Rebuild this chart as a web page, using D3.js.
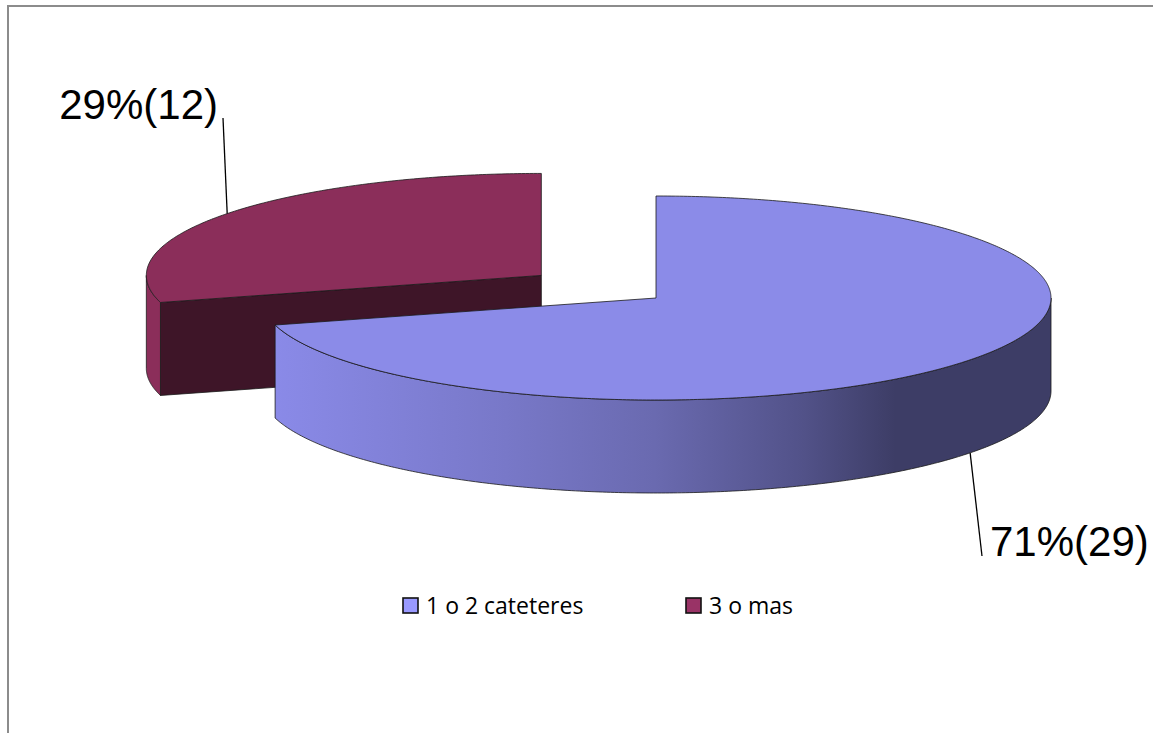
<!DOCTYPE html>
<html><head><meta charset="utf-8">
<script src="https://cdn.jsdelivr.net/npm/d3@7"></script>
<style>body{margin:0;background:#fff}svg{display:block}</style>
</head><body><svg id="c" width="1153" height="733"></svg>
<script>
// ---- data ----
const categories = ["1 o 2 cateteres", "3 o mas"];
const counts = [29, 12];
const percentLabels = ["71%(29)", "29%(12)"];
const explodeFraction = [0, 0.365];

// ---- layout / style ----
const svg = d3.select("#c");
const cx = 656, cy = 298, rx = 395, ry = 102, depth = 93;
const topColors = ["#8b8be8", "#8b2e5a"];
const sideColors = ["url(#blueSide)", "#8b2e5a"];
const radialColors = ["#3d3d66", "#3e1528"];
const legendColors = ["#9999ff", "#993366"];
const labelAnchors = [{x: 982, y: 556, tx: 990, ty: 556, anchor: "start"},
                      {x: 223, y: 118, tx: 218, ty: 119, anchor: "end"}];

// border
svg.append("rect").attr("x", 8).attr("y", 6).attr("width", 1200).attr("height", 800)
  .attr("fill", "none").attr("stroke", "#8c8c8c").attr("stroke-width", 2);

const defs = svg.append("defs");
const g = defs.append("linearGradient").attr("id", "blueSide")
  .attr("gradientUnits", "userSpaceOnUse").attr("x1", 273).attr("x2", 1051).attr("y1", 0).attr("y2", 0);
[[0, "#8a8ae8"], [0.3, "#7878c8"], [0.49, "#6a6ab0"], [0.68, "#525289"], [0.8, "#3d3d66"], [1, "#3d3d66"]]
  .forEach(([o, c]) => g.append("stop").attr("offset", o).attr("stop-color", c));

const pie = d3.pie().sort(null).startAngle(0).endAngle(2 * Math.PI);
const arcs = pie(counts);

const pt = (o, a, dy = 0) => [o[0] + rx * Math.sin(a), o[1] - ry * Math.cos(a) + dy];
function arcPts(o, a0, a1, dy) {
  const n = Math.max(2, Math.ceil(Math.abs(a1 - a0) / 0.01));
  return d3.range(n + 1).map(i => pt(o, a0 + (a1 - a0) * i / n, dy));
}
const line = d3.line();

const slices = arcs.map((d, i) => {
  const mid = (d.startAngle + d.endAngle) / 2;
  const e = explodeFraction[i];
  const o = [cx + e * rx * Math.sin(mid), cy - e * ry * Math.cos(mid)];
  return {d, i, mid, o};
}).sort((a, b) => a.o[1] - b.o[1]);

const stroke = "#1a1a1a", sw = 0.8;
slices.forEach(({d, i, o}) => {
  const grp = svg.append("g");
  // radial faces
  [[d.startAngle, d.startAngle - Math.PI / 2], [d.endAngle, d.endAngle + Math.PI / 2]].forEach(([a, n]) => {
    if (-Math.cos(n) > 0.01) {
      const p = [[o[0], o[1]], pt(o, a), pt(o, a, depth), [o[0], o[1] + depth]];
      grp.append("path").attr("d", line(p) + "Z").attr("fill", radialColors[i])
        .attr("stroke", stroke).attr("stroke-width", sw).attr("stroke-linejoin", "round");
    }
  });
  // outer side (front half only)
  const s0 = Math.max(d.startAngle, Math.PI / 2), s1 = Math.min(d.endAngle, 3 * Math.PI / 2);
  if (s1 > s0) {
    const p = arcPts(o, s0, s1, 0).concat(arcPts(o, s1, s0, depth));
    grp.append("path").attr("d", line(p) + "Z").attr("fill", sideColors[i])
      .attr("stroke", stroke).attr("stroke-width", sw).attr("stroke-linejoin", "round");
  }
  // top
  const tp = [[o[0], o[1]]].concat(arcPts(o, d.startAngle, d.endAngle, 0));
  grp.append("path").attr("d", line(tp) + "Z").attr("fill", topColors[i])
    .attr("stroke", stroke).attr("stroke-width", sw).attr("stroke-linejoin", "round");
});

// leader lines + labels
slices.forEach(({i, mid, o}) => {
  const front = -Math.cos(mid) > 0;
  const p0 = pt(o, mid, front ? depth : 0);
  const L = labelAnchors[i];
  svg.append("line").attr("x1", p0[0]).attr("y1", p0[1]).attr("x2", L.x).attr("y2", L.y)
    .attr("stroke", "#000").attr("stroke-width", 1.3);
  svg.append("text").attr("x", L.tx).attr("y", L.ty).attr("text-anchor", L.anchor)
    .attr("font-family", "'Liberation Sans', Arial, sans-serif").attr("font-size", 42)
    .attr("fill", "#000").text(percentLabels[i]);
});

// legend
const legendX = [403, 686];
categories.forEach((c, i) => {
  svg.append("rect").attr("x", legendX[i]).attr("y", 598).attr("width", 15).attr("height", 15)
    .attr("fill", legendColors[i]).attr("stroke", "#111").attr("stroke-width", 1.6);
  svg.append("text").attr("x", legendX[i] + 23).attr("y", 614)
    .attr("font-family", "'Open Sans', sans-serif").attr("font-size", 23)
    .attr("fill", "#000").text(c);
});
</script>
</body></html>
